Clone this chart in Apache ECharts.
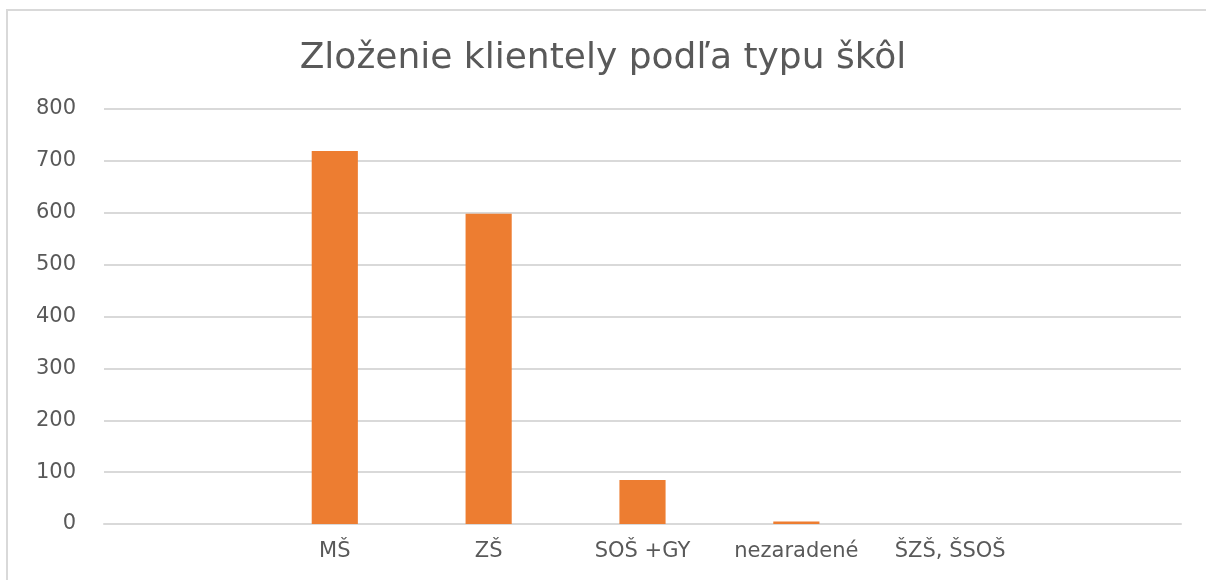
<!DOCTYPE html>
<html>
<head>
<meta charset="utf-8">
<script src="https://cdn.jsdelivr.net/npm/echarts@6/dist/echarts.min.js"></script>
<style>
html, body { margin: 0; padding: 0; background: #fff; }
#chart { width: 1206px; height: 580px; }
</style>
</head>
<body>
<div id="chart"></div>
<script>
// kategórie a hodnoty (prázdne okraje ako v pôvodnom grafe)
var categories = ['', 'MŠ', 'ZŠ', 'SOŠ +GY', 'nezaradené', 'ŠZŠ, ŠSOŠ', ''];
var values = [0, 719, 598, 85, 5, 0, 0];
var yTicks = [0, 100, 200, 300, 400, 500, 600, 700, 800];

var chart = echarts.init(document.getElementById('chart'));
var option = {
    animation: false,
    title: {
        text: 'Zloženie klientely podľa typu škôl',
        left: 'center',
        top: 36,
        textStyle: { fontFamily: 'DejaVu Sans', fontWeight: 'normal', fontSize: 36, color: '#595959' }
    },
    graphic: [{
        type: 'rect',
        shape: { x: 7, y: 10, width: 1300, height: 700 },
        style: { fill: 'none', stroke: '#D9D9D9', lineWidth: 2 },
        silent: true
    }],
    grid: { left: 104, right: 25, top: 109, bottom: 56 },
    xAxis: {
        type: 'category',
        data: categories,
        axisLine: { lineStyle: { color: '#D9D9D9', width: 2 } },
        axisTick: { show: false },
        axisLabel: { color: '#595959', fontSize: 21, fontFamily: 'DejaVu Sans', margin: 17, interval: 0 }
    },
    yAxis: {
        type: 'value',
        min: yTicks[0],
        max: yTicks[yTicks.length - 1],
        interval: 100,
        axisLine: { show: false },
        axisTick: { show: false },
        splitLine: { lineStyle: { color: '#D9D9D9', width: 2 } },
        axisLabel: { color: '#595959', fontSize: 21, fontFamily: 'DejaVu Sans', margin: 28 }
    },
    series: [{
        type: 'bar',
        data: values,
        barWidth: '30%',
        itemStyle: { color: '#ED7D31' }
    }]
};
chart.setOption(option);
</script>
</body>
</html>
